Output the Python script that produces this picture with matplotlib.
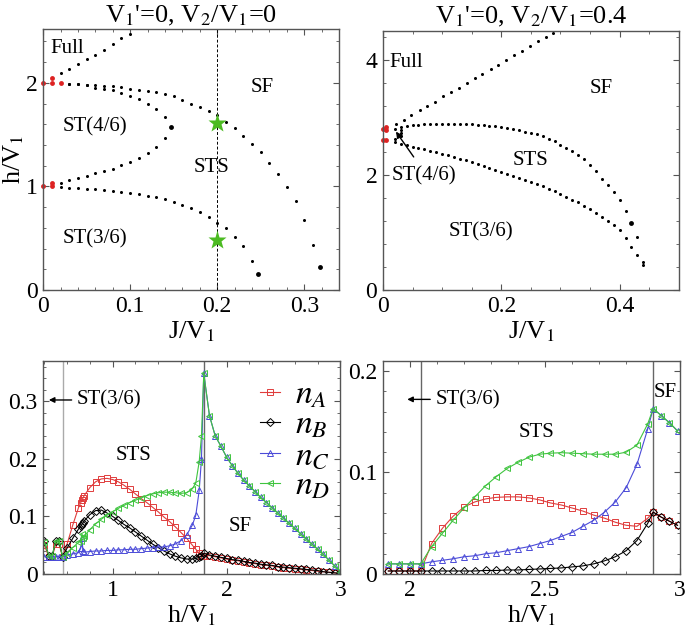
# phase diagrams and sublattice densities
import numpy as np
import matplotlib.pyplot as plt
from matplotlib.ticker import MultipleLocator, FuncFormatter

plt.rcParams['font.family'] = ['Liberation Serif', 'DejaVu Serif']
plt.rcParams['mathtext.fontset'] = 'stix'

# ---- top left: V2/V1 = 0 ----
full1_J = [0.02, 0.03, 0.04, 0.05, 0.06, 0.07, 0.08, 0.09, 0.10]
full1_h = [2.09, 2.135, 2.18, 2.225, 2.27, 2.32, 2.37, 2.43, 2.47]

sf1_J = [0.03, 0.04, 0.05, 0.06, 0.07, 0.08, 0.09, 0.10, 0.11, 0.12, 0.13, 0.14, 0.15,
         0.16, 0.17, 0.18, 0.19, 0.20, 0.21, 0.22, 0.23, 0.24, 0.25, 0.26, 0.27, 0.28,
         0.29, 0.30, 0.31]
sf1_h = [1.99, 1.988, 1.98, 1.977, 1.97, 1.965, 1.955, 1.942, 1.935, 1.922, 1.91, 1.894,
         1.868, 1.836, 1.80, 1.771, 1.723, 1.687, 1.623, 1.559, 1.488, 1.41, 1.33, 1.23,
         1.118, 0.995, 0.857, 0.673, 0.435]

st46_J = [0.03, 0.04, 0.05, 0.06, 0.07, 0.08, 0.09, 0.10, 0.11, 0.12, 0.13, 0.14,
          0.14, 0.13, 0.12, 0.11, 0.10, 0.09, 0.08, 0.07, 0.06, 0.05, 0.04, 0.03, 0.02]
st46_h = [1.99, 1.988, 1.98, 1.948, 1.942, 1.929, 1.906, 1.874, 1.842, 1.80, 1.75, 1.665,
          1.465, 1.38, 1.318, 1.275, 1.238, 1.205, 1.172, 1.148, 1.125, 1.10, 1.079, 1.063,
          1.037]

st36_J = [0.02, 0.03, 0.04, 0.05, 0.06, 0.07, 0.08, 0.09, 0.10, 0.11, 0.12, 0.13, 0.14,
          0.15, 0.16, 0.17, 0.18, 0.19, 0.20, 0.21, 0.22, 0.23, 0.24]
st36_h = [0.99, 0.989, 0.986, 0.979, 0.973, 0.966, 0.953, 0.943, 0.934, 0.924, 0.911, 0.898,
          0.878, 0.847, 0.823, 0.789, 0.757, 0.709, 0.65, 0.596, 0.515, 0.425, 0.283]

tips1_J = [0.147, 0.247, 0.318]
tips1_h = [1.578, 0.155, 0.219]

red1_J = [0.0, 0.01, 0.01, 0.02, 0.0, 0.01, 0.01]
red1_h = [2.0, 2.0, 2.05, 2.0, 1.0, 1.0, 1.03]

star_J = [0.2, 0.2]
star_h = [1.61, 0.483]

# ---- top right: V2/V1 = 0.4 ----
full2_J = [0.022, 0.035, 0.048, 0.062, 0.075, 0.088, 0.102, 0.115, 0.128, 0.142, 0.155,
           0.168, 0.182, 0.195, 0.208, 0.222, 0.235, 0.248, 0.262, 0.275, 0.288]
full2_h = [2.88, 2.96, 3.04, 3.12, 3.20, 3.27, 3.36, 3.44, 3.51, 3.60, 3.68, 3.75, 3.84,
           3.91, 3.99, 4.08, 4.15, 4.23, 4.32, 4.39, 4.47]

sf2_J = [0.02, 0.03, 0.04, 0.05, 0.06, 0.07, 0.08, 0.09, 0.10, 0.11, 0.12, 0.13, 0.14,
         0.15, 0.16, 0.17, 0.18, 0.19, 0.20, 0.21, 0.22, 0.23, 0.24, 0.25, 0.26, 0.27,
         0.28, 0.29, 0.30, 0.31, 0.32, 0.33, 0.34, 0.35, 0.36, 0.37, 0.38, 0.39, 0.40,
         0.41, 0.43, 0.44]
sf2_h = [2.80, 2.83, 2.845, 2.86, 2.87, 2.875, 2.878, 2.88, 2.882, 2.882, 2.882, 2.88,
         2.878, 2.875, 2.87, 2.865, 2.855, 2.84, 2.83, 2.82, 2.80, 2.775, 2.746, 2.72,
         2.70, 2.67, 2.62, 2.59, 2.526, 2.47, 2.41, 2.34, 2.28, 2.17, 2.06, 1.926, 1.82,
         1.705, 1.56, 1.37, 0.913, 0.49]

st36b_J = [0.02, 0.03, 0.04, 0.05, 0.06, 0.07, 0.08, 0.09, 0.10, 0.11, 0.12, 0.13, 0.14,
           0.15, 0.16, 0.17, 0.18, 0.19, 0.20, 0.21, 0.22, 0.23, 0.24, 0.25, 0.26, 0.27,
           0.28, 0.29, 0.30, 0.31, 0.32, 0.33, 0.34, 0.35, 0.36, 0.37, 0.38, 0.39, 0.40,
           0.41, 0.42, 0.43, 0.44]
st36b_h = [2.57, 2.54, 2.515, 2.49, 2.465, 2.44, 2.415, 2.39, 2.365, 2.34, 2.31, 2.28,
           2.25, 2.22, 2.19, 2.15, 2.12, 2.09, 2.05, 2.02, 1.985, 1.95, 1.915, 1.875, 1.84,
           1.80, 1.76, 1.71, 1.665, 1.62, 1.57, 1.52, 1.46, 1.40, 1.34, 1.27, 1.20, 1.13,
           1.04, 0.90, 0.75, 0.607, 0.433]

lobe2_J = [0.03, 0.03, 0.03, 0.02]
lobe2_h = [2.78, 2.73, 2.68, 2.63]

tips2_J = [0.42]
tips2_h = [1.156]

red2_J = [0.0, 0.006, 0.006, 0.0, 0.006]
red2_h = [2.80, 2.83, 2.78, 2.60, 2.60]

# ---- bottom left: densities, V2/V1 = 0 ----
h_l = [0.40, 0.44, 0.47, 0.50, 0.53, 0.56, 0.60, 0.65, 0.70, 0.72, 0.73, 0.74, 0.75,
       0.80, 0.85, 0.90, 0.95, 1.00, 1.05, 1.10, 1.15, 1.20, 1.25, 1.30, 1.35, 1.40,
       1.45, 1.50, 1.55, 1.60, 1.65, 1.70, 1.73, 1.76, 1.78, 1.80, 1.85, 1.90, 1.95,
       2.00, 2.05, 2.10, 2.15, 2.20, 2.25, 2.30, 2.35, 2.40, 2.45, 2.50, 2.55, 2.60,
       2.65, 2.70, 2.75, 2.80, 2.85, 2.90, 2.95, 3.00]
nA_l = [0.050, 0.030, 0.030, 0.052, 0.052, 0.030,
        0.052, 0.085, 0.115, 0.124, 0.128, 0.132, 0.136, 0.150, 0.160, 0.165, 0.166,
        0.164, 0.160, 0.154, 0.147, 0.139, 0.131, 0.124, 0.116, 0.108, 0.099, 0.091,
        0.082, 0.072, 0.062, 0.050, 0.043, 0.036, 0.032, 0.032,
        0.032, 0.030, 0.028, 0.026, 0.024, 0.023, 0.021, 0.019, 0.018, 0.016, 0.015,
        0.014, 0.012, 0.011, 0.010, 0.009, 0.008, 0.007, 0.006, 0.005, 0.004, 0.003,
        0.002, 0.001]
nB_l = [0.057, 0.032, 0.032, 0.057, 0.057, 0.030,
        0.045, 0.062, 0.078, 0.083, 0.086, 0.089, 0.092, 0.103, 0.110, 0.111, 0.106,
        0.100, 0.093, 0.086, 0.080, 0.073, 0.066, 0.059, 0.052, 0.046, 0.040, 0.035,
        0.031, 0.028, 0.026, 0.026, 0.027, 0.029, 0.031, 0.036,
        0.033, 0.031, 0.029, 0.027, 0.025, 0.024, 0.022, 0.020, 0.019, 0.017, 0.016,
        0.015, 0.013, 0.012, 0.011, 0.010, 0.009, 0.008, 0.007, 0.006, 0.004, 0.003,
        0.002, 0.001]
nC_l = [0.030, 0.030, 0.030, 0.030, 0.030, 0.030,
        0.033, 0.035, 0.037, 0.045, 0.062, 0.040, 0.038, 0.039, 0.040, 0.040, 0.041,
        0.041, 0.042, 0.042, 0.043, 0.043, 0.044, 0.045, 0.046, 0.047, 0.047, 0.049,
        0.052, 0.058, 0.068, 0.085, 0.102, 0.145, 0.200, 0.348,
        0.275, 0.240, 0.222, 0.203, 0.188, 0.175, 0.163, 0.153, 0.143, 0.133, 0.124,
        0.115, 0.106, 0.097, 0.088, 0.079, 0.070, 0.061, 0.052, 0.043, 0.034, 0.024,
        0.014, 0.004]
nD_l = [0.055, 0.032, 0.032, 0.057, 0.057, 0.030,
        0.036, 0.046, 0.055, 0.058, 0.070, 0.063, 0.066, 0.077, 0.087, 0.095, 0.102,
        0.108, 0.114, 0.119, 0.124, 0.128, 0.132, 0.136, 0.139, 0.141, 0.142, 0.142,
        0.141, 0.140, 0.141, 0.148, 0.158, 0.195, 0.240, 0.348,
        0.275, 0.240, 0.222, 0.203, 0.188, 0.175, 0.163, 0.153, 0.143, 0.133, 0.124,
        0.115, 0.106, 0.097, 0.088, 0.079, 0.070, 0.061, 0.052, 0.043, 0.034, 0.024,
        0.014, 0.004]

# ---- bottom right: densities, V2/V1 = 0.4 ----
h_r = [1.92, 1.96, 2.00, 2.04, 2.08, 2.12, 2.16, 2.20, 2.24, 2.28, 2.32, 2.36, 2.40,
       2.44, 2.48, 2.52, 2.56, 2.60, 2.64, 2.68, 2.72, 2.76, 2.80, 2.84, 2.88, 2.90,
       2.93, 2.96, 2.99]
nA_r = [0.003, 0.003, 0.003, 0.003, 0.030, 0.045, 0.057, 0.066, 0.071, 0.074, 0.0755,
        0.076, 0.076, 0.075, 0.073, 0.070, 0.068, 0.065, 0.062, 0.058, 0.055, 0.051,
        0.048, 0.047, 0.055, 0.061, 0.056, 0.052, 0.048]
nB_r = [0.003, 0.003, 0.003, 0.003, 0.003, 0.003, 0.003, 0.003, 0.003, 0.0035, 0.0035,
        0.004, 0.004, 0.0045, 0.005, 0.0055, 0.006, 0.007, 0.008, 0.010, 0.013, 0.017,
        0.023, 0.033, 0.050, 0.061, 0.056, 0.052, 0.048]
nC_r = [0.010, 0.010, 0.010, 0.010, 0.012, 0.0135, 0.015, 0.017, 0.018, 0.020, 0.021,
        0.023, 0.025, 0.027, 0.030, 0.033, 0.037, 0.041, 0.047, 0.053, 0.061, 0.071,
        0.085, 0.108, 0.143, 0.163, 0.156, 0.149, 0.141]
nD_r = [0.010, 0.010, 0.010, 0.010, 0.027, 0.040, 0.053, 0.065, 0.076, 0.087, 0.096,
        0.104, 0.110, 0.115, 0.118, 0.119, 0.1195, 0.119, 0.1185, 0.118, 0.118, 0.118,
        0.120, 0.127, 0.148, 0.163, 0.156, 0.149, 0.141]

c_red = '#e03c3c'
c_blue = '#4b4bd8'
c_green = '#3fc43f'
spine_c = '#555555'

fig = plt.figure(figsize=(6.85, 6.29), dpi=100)
ax1 = fig.add_axes([0.063, 0.539, 0.432, 0.415])
ax2 = fig.add_axes([0.559, 0.539, 0.432, 0.412])
ax3 = fig.add_axes([0.063, 0.0874, 0.434, 0.339])
ax4 = fig.add_axes([0.559, 0.0874, 0.434, 0.339])

fmt = FuncFormatter(lambda v, p: '%g' % v)
for ax in (ax1, ax2, ax3, ax4):
    ax.tick_params(which='both', direction='in', top=True, right=True,
                   labelsize=17, color=spine_c)
    ax.tick_params(which='major', length=4, width=0.8, pad=4)
    ax.tick_params(which='minor', length=2.2, width=0.6)
    for s in ax.spines.values():
        s.set_color(spine_c)
        s.set_linewidth(1.0)
    ax.xaxis.set_major_formatter(fmt)
    ax.yaxis.set_major_formatter(fmt)

dot = dict(ls='none', marker='o', color='k', mec='none')
lab = dict(fontsize=15, ha='center', va='center')

# top left
ax1.axvline(0.2, color='k', ls=(0, (3, 2)), lw=0.7)
ax1.plot(full1_J, full1_h, ms=2.2, **dot)
ax1.plot(sf1_J, sf1_h, ms=2.2, **dot)
ax1.plot(st46_J, st46_h, ms=2.2, **dot)
ax1.plot(st36_J, st36_h, ms=2.2, **dot)
ax1.plot(tips1_J, tips1_h, ms=3.5, **dot)
ax1.plot(red1_J, red1_h, ls='none', marker='o', ms=3.5, color='#dd2222', mec='none', clip_on=False)
ax1.plot(star_J, star_h, ls='none', marker='*', ms=14, color='#4cbb22', mec='none')
ax1.set_xlim(0, 0.34)
ax1.set_ylim(0, 2.52)
ax1.xaxis.set_major_locator(MultipleLocator(0.1))
ax1.xaxis.set_minor_locator(MultipleLocator(0.02))
ax1.yaxis.set_major_locator(MultipleLocator(1))
ax1.yaxis.set_minor_locator(MultipleLocator(0.2))
ax1.set_xlabel('J/V$_1$', fontsize=19, labelpad=2)
ax1.set_ylabel('h/V$_1$', fontsize=19, labelpad=0)
ax1.set_title("V$_1$'=0, V$_2$/V$_1$=0", fontsize=19, pad=5)
ax1.text(0.028, 2.33, 'Full', **lab)
ax1.text(0.252, 1.95, 'SF', **lab)
ax1.text(0.060, 1.575, 'ST(4/6)', **lab)
ax1.text(0.193, 1.18, 'STS', **lab)
ax1.text(0.060, 0.49, 'ST(3/6)', **lab)

# top right
ax2.plot(full2_J, full2_h, ms=2.2, **dot)
ax2.plot(sf2_J, sf2_h, ms=2.2, **dot)
ax2.plot(st36b_J, st36b_h, ms=2.2, **dot)
ax2.plot(lobe2_J, lobe2_h, ms=2.2, **dot)
ax2.plot(tips2_J, tips2_h, ms=3.5, **dot)
ax2.plot(red2_J, red2_h, ls='none', marker='o', ms=3.5, color='#dd2222', mec='none', clip_on=False)
ax2.set_xlim(0, 0.5)
ax2.set_ylim(0, 4.5)
ax2.xaxis.set_major_locator(MultipleLocator(0.2))
ax2.xaxis.set_minor_locator(MultipleLocator(0.05))
ax2.yaxis.set_major_locator(MultipleLocator(2))
ax2.yaxis.set_minor_locator(MultipleLocator(0.4))
ax2.set_xlabel('J/V$_1$', fontsize=19, labelpad=2)
ax2.set_title("V$_1$'=0, V$_2$/V$_1$=0.4", fontsize=19, pad=5)
ax2.text(0.039, 3.95, 'Full', **lab)
ax2.text(0.369, 3.5, 'SF', **lab)
ax2.text(0.249, 2.24, 'STS', **lab)
ax2.text(0.069, 1.98, 'ST(4/6)', **lab)
ax2.text(0.165, 1.01, 'ST(3/6)', **lab)
ax2.annotate('', xy=(0.022, 2.75), xytext=(0.052, 2.31),
             arrowprops=dict(arrowstyle='-|>', color='k', lw=1.0, mutation_scale=9,
                             shrinkA=0, shrinkB=0))

# bottom left
mk = dict(mfc='none', mew=0.7, ms=4.5, lw=0.8)
ax3.axvline(0.56, color='#aaaaaa', lw=1.0)
ax3.axvline(1.80, color='#666666', lw=1.0)
ax3.plot(h_l, nA_l, marker='s', color=c_red, label='$n_A$', **mk)
ax3.plot(h_l, nB_l, marker='D', color='k', label='$n_B$', mfc='none', mew=0.7, ms=3.8, lw=0.8)
ax3.plot(h_l, nC_l, marker='^', color=c_blue, label='$n_C$', **mk)
ax3.plot(h_l, nD_l, marker='<', color=c_green, label='$n_D$', **mk)
ax3.set_xlim(0.39, 3)
ax3.set_ylim(0, 0.37)
ax3.xaxis.set_major_locator(MultipleLocator(1))
ax3.xaxis.set_minor_locator(MultipleLocator(0.2))
ax3.yaxis.set_major_locator(MultipleLocator(0.1))
ax3.yaxis.set_minor_locator(MultipleLocator(0.02))
ax3.set_xlabel('h/V$_1$', fontsize=19, labelpad=2)
ax3.annotate('', xy=(0.44, 0.302), xytext=(0.64, 0.302),
             arrowprops=dict(arrowstyle='-|>', color='k', lw=1.0, mutation_scale=8,
                             shrinkA=0, shrinkB=0))
ax3.text(0.685, 0.302, 'ST(3/6)', fontsize=15, ha='left', va='center')
ax3.text(1.18, 0.206, 'STS', **lab)
ax3.text(2.12, 0.082, 'SF', **lab)
leg = ax3.legend(loc='upper left', bbox_to_anchor=(0.73, 0.91), frameon=False,
                 fontsize=24, handlelength=0.6, handletextpad=0.45,
                 labelspacing=0.0, borderpad=0, borderaxespad=0)

# bottom right
ax4.axvline(2.04, color='#666666', lw=1.0)
ax4.axvline(2.90, color='#666666', lw=1.0)
ax4.plot(h_r, nA_r, marker='s', color=c_red, **mk)
ax4.plot(h_r, nB_r, marker='D', color='k', mfc='none', mew=0.7, ms=3.8, lw=0.8)
ax4.plot(h_r, nC_r, marker='^', color=c_blue, **mk)
ax4.plot(h_r, nD_r, marker='<', color=c_green, **mk)
ax4.set_xlim(1.9, 3)
ax4.set_ylim(0, 0.21)
ax4.xaxis.set_major_locator(MultipleLocator(0.5))
ax4.xaxis.set_minor_locator(MultipleLocator(0.1))
ax4.yaxis.set_major_locator(MultipleLocator(0.1))
ax4.yaxis.set_minor_locator(MultipleLocator(0.02))
ax4.set_xlabel('h/V$_1$', fontsize=19, labelpad=2)
ax4.annotate('', xy=(1.99, 0.172), xytext=(2.075, 0.172),
             arrowprops=dict(arrowstyle='-|>', color='k', lw=1.0, mutation_scale=8,
                             shrinkA=0, shrinkB=0))
ax4.text(2.095, 0.172, 'ST(3/6)', fontsize=15, ha='left', va='center')
ax4.text(2.47, 0.139, 'STS', **lab)
ax4.text(2.944, 0.179, 'SF', **lab)

fig.savefig('out.png', dpi=100)
